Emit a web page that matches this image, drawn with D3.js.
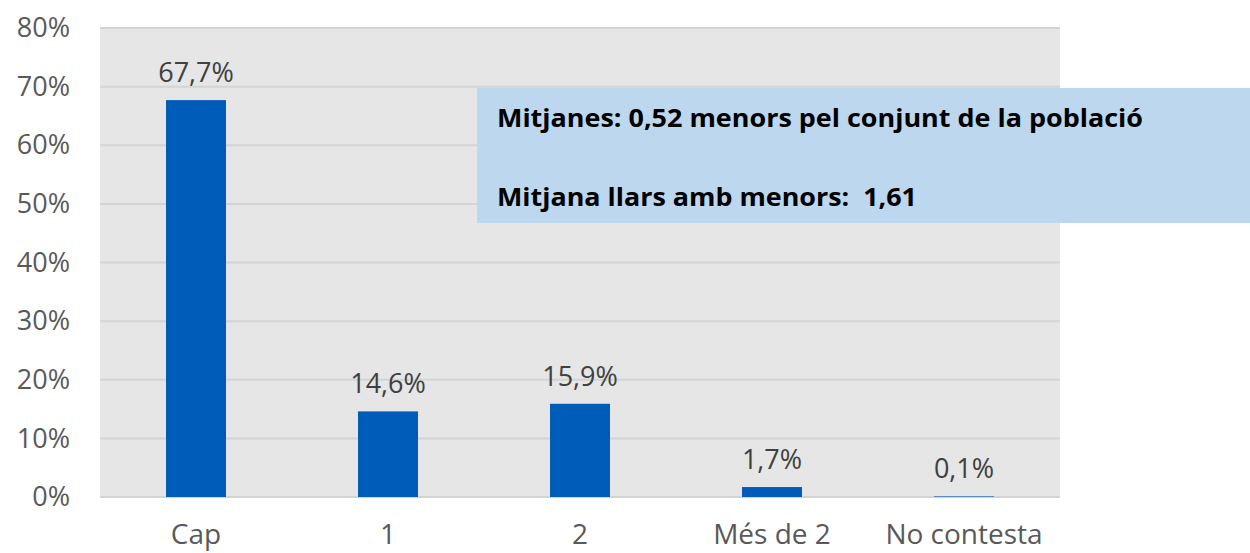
<!DOCTYPE html>
<html>
<head>
<meta charset="utf-8">
<script src="https://cdn.jsdelivr.net/npm/d3@7"></script>
<style>
  body { margin: 0; background: #fff; }
  svg { display: block; font-family: "Open Sans", sans-serif; }
</style>
</head>
<body>
<svg width="1250" height="553"></svg>
<script>
var categories = ["Cap", "1", "2", "Més de 2", "No contesta"];
var values = [67.7, 14.6, 15.9, 1.7, 0.1];
var valueLabels = ["67,7%", "14,6%", "15,9%", "1,7%", "0,1%"];
var yTicks = [0, 10, 20, 30, 40, 50, 60, 70, 80];
var noteLines = ["Mitjanes: 0,52 menors pel conjunt de la població", "Mitjana llars amb menors:  1,61"];

var svg = d3.select("svg"),
    margin = {top: 28, left: 100},
    plotW = 960,
    plotH = 469;

var x = d3.scaleBand()
    .domain(categories)
    .range([margin.left, margin.left + plotW])
    .paddingInner(0.6875)
    .paddingOuter(0.34375);

var y = d3.scaleLinear()
    .domain([0, 80])
    .range([margin.top + plotH, margin.top]);

// plot background
svg.append("rect")
    .attr("x", margin.left)
    .attr("y", margin.top)
    .attr("width", plotW)
    .attr("height", plotH)
    .attr("fill", "#e6e6e6");

// gridlines
svg.append("g")
  .selectAll("line")
  .data(yTicks)
  .enter().append("line")
    .attr("x1", margin.left)
    .attr("x2", margin.left + plotW)
    .attr("y1", function(d) { return y(d); })
    .attr("y2", function(d) { return y(d); })
    .attr("stroke", "#d4d4d4")
    .attr("stroke-width", 2);

// y axis labels
var yAxis = d3.axisLeft(y)
    .tickValues(yTicks)
    .tickFormat(function(d) { return d + "%"; })
    .tickSize(0)
    .tickPadding(30);

svg.append("g")
    .attr("transform", "translate(" + margin.left + ",0)")
    .call(yAxis)
    .call(function(g) { g.select(".domain").remove(); })
    .selectAll("text")
    .attr("font-size", 27)
    .attr("font-family", "Open Sans, sans-serif")
    .attr("fill", "#595959");

// x axis labels
var xAxis = d3.axisBottom(x).tickSize(0).tickPadding(27);

svg.append("g")
    .attr("transform", "translate(0," + (margin.top + plotH) + ")")
    .call(xAxis)
    .call(function(g) { g.select(".domain").remove(); })
    .selectAll("text")
    .attr("font-size", 28)
    .attr("font-family", "Open Sans, sans-serif")
    .attr("fill", "#595959");

// bars
svg.append("g")
  .selectAll("rect")
  .data(values)
  .enter().append("rect")
    .attr("x", function(d, i) { return x(categories[i]); })
    .attr("y", function(d) { return y(d); })
    .attr("width", x.bandwidth())
    .attr("height", function(d) { return y(0) - y(d); })
    .attr("fill", "#005cb9");

// value labels
svg.append("g")
  .selectAll("text")
  .data(values)
  .enter().append("text")
    .attr("x", function(d, i) { return x(categories[i]) + x.bandwidth() / 2; })
    .attr("y", function(d) { return y(d) - 18; })
    .attr("text-anchor", "middle")
    .attr("font-size", 27)
    .attr("fill", "#404040")
    .text(function(d, i) { return valueLabels[i]; });

// note box
var note = svg.append("g");
note.append("rect")
    .attr("x", 477)
    .attr("y", 88)
    .attr("width", 773)
    .attr("height", 135)
    .attr("fill", "#bdd7ee");

note.selectAll("text")
  .data(noteLines)
  .enter().append("text")
    .attr("x", 497)
    .attr("y", function(d, i) { return 127 + i * 79; })
    .attr("font-size", 25)
    .attr("font-weight", "bold")
    .attr("fill", "#000")
    .style("white-space", "pre")
    .attr("textLength", function(d, i) { return i === 0 ? 646 : 420; })
    .attr("lengthAdjust", "spacingAndGlyphs")
    .text(function(d) { return d; });
</script>
</body>
</html>
